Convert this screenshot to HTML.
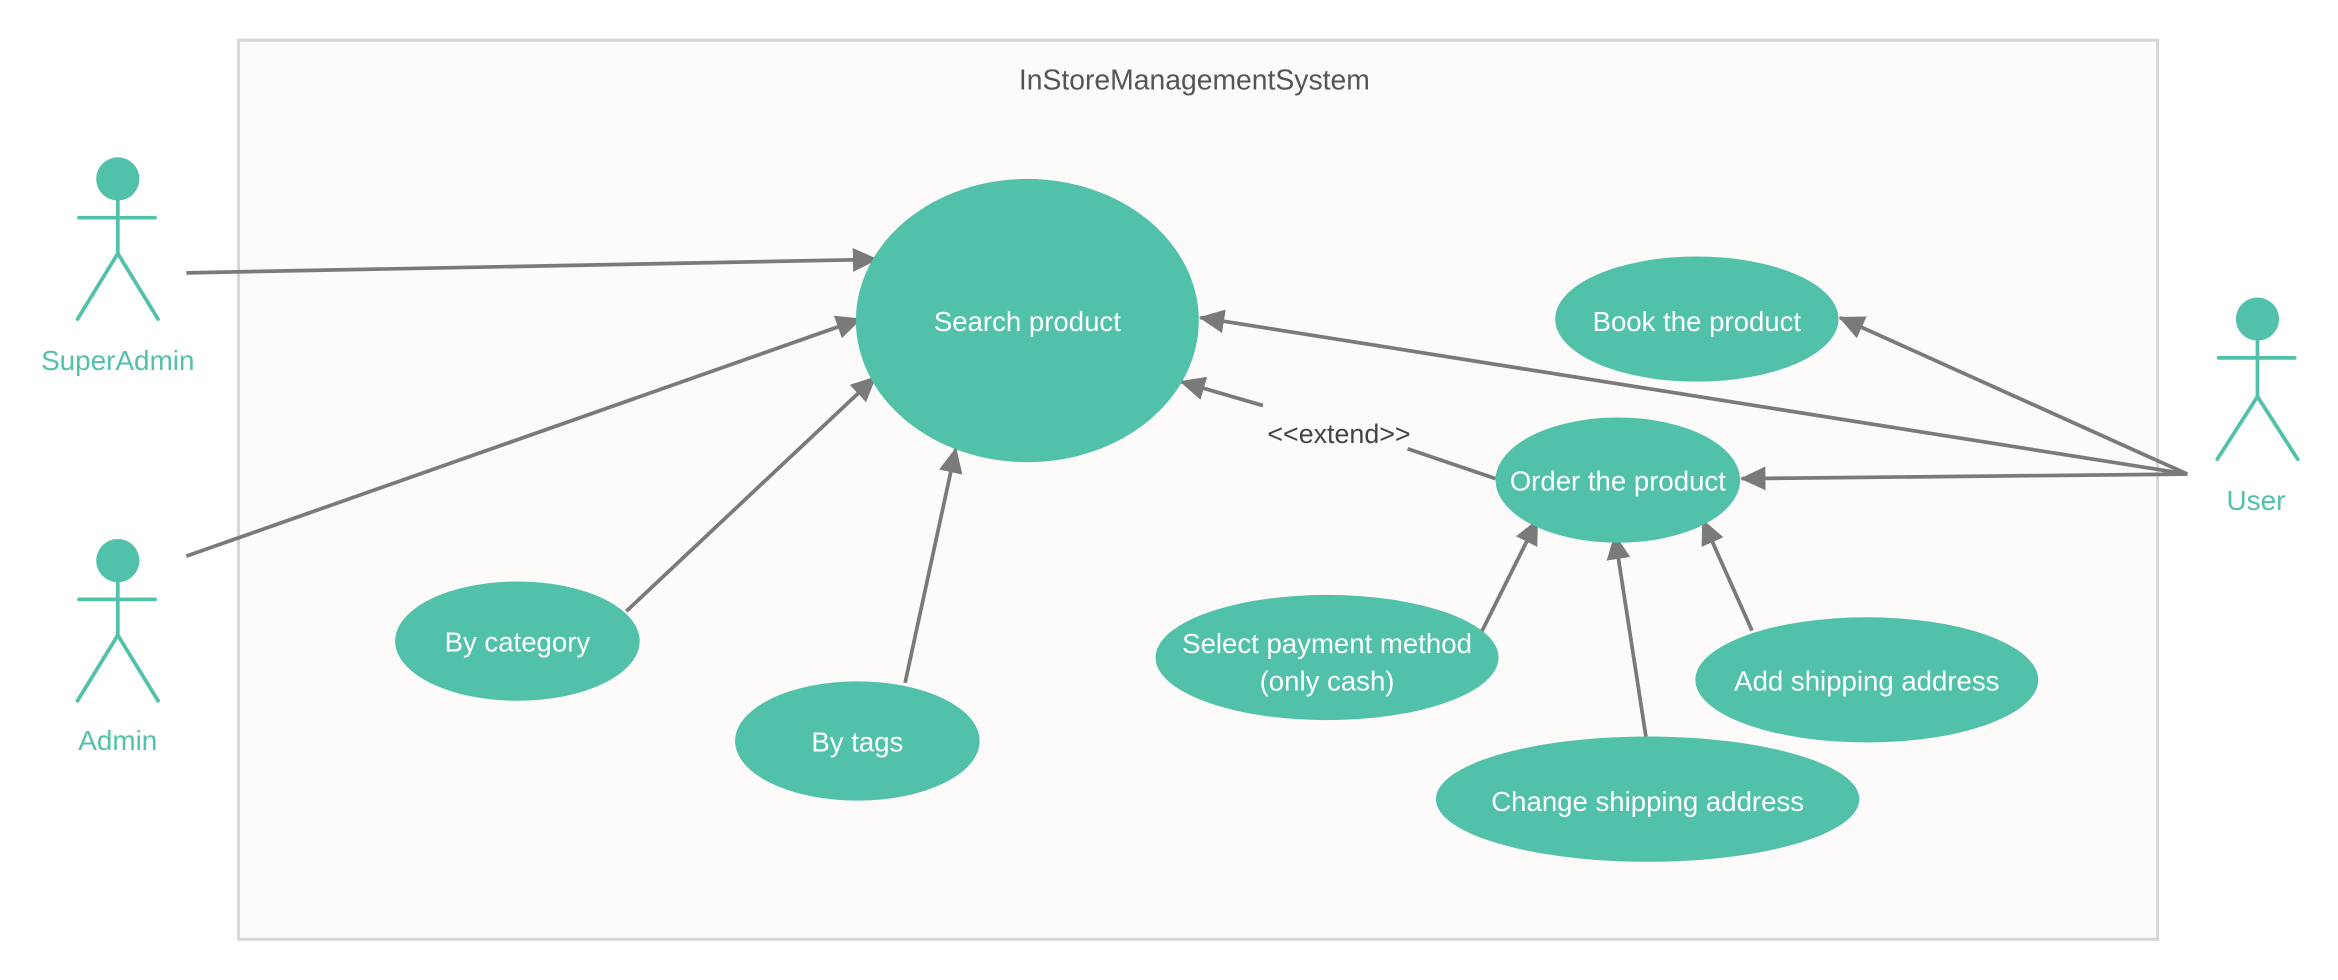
<!DOCTYPE html>
<html><head><meta charset="utf-8"><style>
html,body{margin:0;padding:0;background:#fff;}
svg{display:block;}
text{font-family:"Liberation Sans",sans-serif;}
</style></head><body>
<svg width="2338" height="980" viewBox="0 0 1568 657.3" preserveAspectRatio="none" xmlns="http://www.w3.org/2000/svg">
<defs>
<marker id="b" markerWidth="18" markerHeight="16" refX="16" refY="8" orient="auto" markerUnits="userSpaceOnUse">
<path d="M0,0 L17,8 L0,16 Z" fill="#7a7a7a"/>
</marker>
</defs>
<rect x="0" y="0" width="1568" height="658" fill="#fff"/>
<rect x="160" y="27" width="1287" height="603" fill="#fcfbfa" stroke="#d6d6d6" stroke-width="2"/>
<text x="801" y="60" font-size="19" fill="#555" text-anchor="middle">InStoreManagementSystem</text>

<g stroke="#52c1a9" stroke-width="2.5" stroke-linecap="round" fill="none">
<line x1="79" y1="134" x2="79" y2="170"/><line x1="53" y1="146" x2="104" y2="146"/>
<polyline points="52,214 79,170 106,214"/>
<line x1="79" y1="390" x2="79" y2="426"/><line x1="53" y1="402" x2="104" y2="402"/>
<polyline points="52,470 79,426 106,470"/>
<line x1="1514" y1="228" x2="1514" y2="266"/><line x1="1488" y1="240" x2="1539" y2="240"/>
<polyline points="1487,308 1514,266 1541,308"/>
</g>
<g fill="#52c1a9">
<circle cx="79" cy="120" r="14.5"/><circle cx="79" cy="376" r="14.5"/><circle cx="1514" cy="214" r="14.5"/>
</g>
<g fill="#52c1a9" font-size="18.7" text-anchor="middle">
<text x="79" y="248">SuperAdmin</text><text x="79" y="503">Admin</text><text x="1513" y="342">User</text>
</g>

<g stroke="#7a7a7a" stroke-width="2.5" fill="none" marker-end="url(#b)">
<line x1="125" y1="183" x2="588" y2="174"/>
<line x1="125" y1="373" x2="577" y2="214"/>
<line x1="420" y1="410" x2="587" y2="253"/>
<line x1="607" y1="458" x2="641" y2="301"/>
<line x1="1467" y1="318" x2="805" y2="213"/>
<line x1="1467" y1="318" x2="1234" y2="213"/>
<line x1="1467" y1="318" x2="1168" y2="321"/>
<line x1="993" y1="425" x2="1031" y2="349"/>
<line x1="1104" y1="495" x2="1083" y2="359"/>
<line x1="1175" y1="423" x2="1142" y2="349"/>
<line x1="847" y1="272" x2="792" y2="256"/>
</g>
<line x1="1003" y1="321" x2="944" y2="301" stroke="#7a7a7a" stroke-width="2.5"/>
<text x="898" y="297" font-size="18" fill="#444" text-anchor="middle">&lt;&lt;extend&gt;&gt;</text>

<g fill="#52c1a9">
<ellipse cx="689" cy="215" rx="115" ry="95"/>
<ellipse cx="1138" cy="214" rx="95" ry="42"/>
<ellipse cx="1085" cy="322" rx="82" ry="42"/>
<ellipse cx="347" cy="430" rx="82" ry="40"/>
<ellipse cx="575" cy="497" rx="82" ry="40"/>
<ellipse cx="890" cy="441" rx="115" ry="42"/>
<ellipse cx="1252" cy="456" rx="115" ry="42"/>
<ellipse cx="1105" cy="536" rx="142" ry="42"/>
</g>
<g fill="#fff" font-size="18.5" text-anchor="middle">
<text x="689" y="222">Search product</text>
<text x="1138" y="222">Book the product</text>
<text x="1085" y="329">Order the product</text>
<text x="347" y="437">By category</text>
<text x="575" y="504">By tags</text>
<text x="890" y="438">Select payment method</text>
<text x="890" y="463">(only cash)</text>
<text x="1252" y="463">Add shipping address</text>
<text x="1105" y="544">Change shipping address</text>
</g>
</svg>
</body></html>
